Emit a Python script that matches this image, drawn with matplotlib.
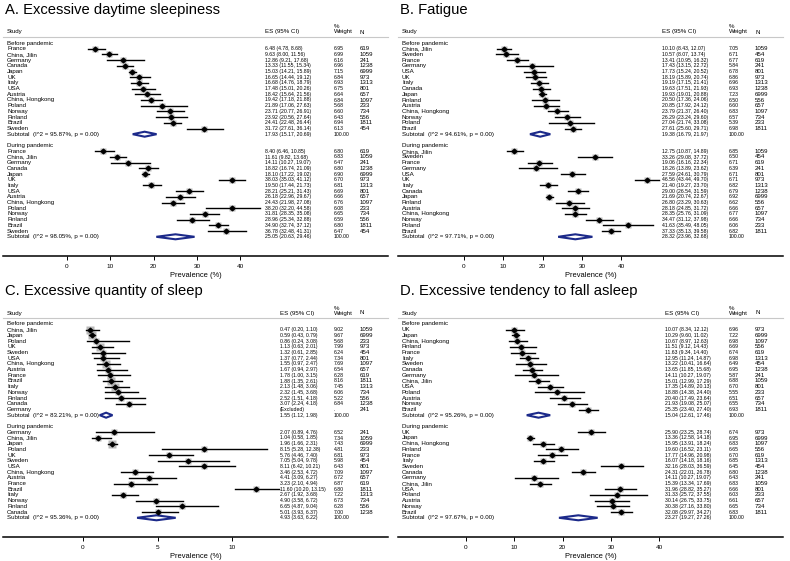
import numpy as np
import matplotlib
matplotlib.use('Agg')
import matplotlib.pyplot as plt
import matplotlib.transforms as mtransforms
from matplotlib import font_manager

nan = np.nan

# ---------------- data ----------------
# A. Excessive daytime sleepiness
a_names = ['France', 'China, Jilin', 'Germany', 'Canada', 'Japan', 'UK', 'Italy', 'USA', 'Austria',
           'China, Hongkong', 'Poland', 'Norway', 'Finland', 'Brazil', 'Sweden']
a_n = [619, 1059, 241, 1238, 6999, 973, 1313, 801, 657, 1097, 233, 734, 556, 1811, 454]
a_pre_es = [6.48, 9.63, 12.86, 13.33, 15.03, 16.65, 16.68, 17.48, 18.42, 19.42, 21.89, 23.71, 23.92, 24.41, 31.72]
a_pre_lo = [4.78, 8.00, 9.21, 11.55, 14.21, 14.44, 14.76, 15.01, 15.64, 17.18, 17.06, 20.77, 20.56, 22.48, 27.61]
a_pre_hi = [8.68, 11.56, 17.68, 15.34, 15.89, 19.12, 18.79, 20.26, 21.56, 21.88, 27.63, 26.91, 27.64, 26.44, 36.14]
a_pre_wt = [6.95, 6.99, 6.16, 6.96, 7.15, 6.84, 6.93, 6.75, 6.64, 6.84, 5.68, 6.60, 6.43, 6.94, 6.13]
a_pre_sub = [17.93, 15.17, 20.69, 95.87]
a_dur_es = [8.40, 11.61, 14.11, 18.82, 18.10, 38.03, 19.50, 28.21, 26.18, 24.43, 38.20, 31.81, 28.96, 34.90, 36.78]
a_dur_lo = [6.46, 9.82, 10.27, 16.74, 17.22, 35.03, 17.44, 25.21, 22.96, 21.98, 32.20, 28.35, 25.34, 32.74, 32.48]
a_dur_hi = [10.85, 13.68, 19.07, 21.09, 19.02, 41.12, 21.73, 31.43, 29.67, 27.08, 44.58, 35.08, 32.88, 37.12, 41.31]
a_dur_wt = [6.80, 6.83, 6.47, 6.80, 6.90, 6.70, 6.81, 6.69, 6.66, 6.76, 6.08, 6.65, 6.59, 6.80, 6.47]
a_dur_sub = [25.05, 20.63, 29.46, 98.05]

# B. Fatigue
b_names = ['China, Jilin', 'Sweden', 'France', 'Germany', 'USA', 'UK', 'Italy', 'Canada', 'Japan',
           'Finland', 'Austria', 'China, Hongkong', 'Norway', 'Poland', 'Brazil']
b_n = [1059, 454, 619, 241, 801, 973, 1313, 1238, 6999, 556, 657, 1097, 734, 233, 1811]
b_pre_es = [10.10, 10.57, 13.41, 17.43, 17.73, 18.19, 19.19, 19.63, 19.93, 20.50, 20.85, 23.79, 26.29, 27.04, 27.61]
b_pre_lo = [8.43, 8.07, 10.95, 13.15, 15.24, 15.89, 17.15, 17.51, 19.01, 17.36, 17.92, 21.37, 23.24, 21.74, 25.60]
b_pre_hi = [12.07, 13.74, 16.32, 22.72, 20.52, 20.74, 21.41, 21.93, 20.88, 24.06, 24.12, 26.40, 29.60, 33.08, 29.71]
b_pre_wt = [7.05, 6.71, 6.77, 5.84, 6.78, 6.86, 6.96, 6.93, 7.23, 6.50, 6.60, 6.83, 6.57, 5.39, 6.98]
b_pre_sub = [19.38, 16.79, 21.97, 94.61]
b_dur_es = [12.75, 33.26, 19.06, 18.26, 27.59, 46.56, 21.40, 29.00, 21.69, 26.80, 28.18, 28.35, 34.47, 41.63, 37.33]
b_dur_lo = [10.87, 29.08, 16.16, 13.89, 24.61, 43.44, 19.27, 26.54, 20.74, 23.29, 24.85, 25.76, 31.12, 35.49, 35.13]
b_dur_hi = [14.89, 37.72, 22.34, 23.62, 30.79, 49.70, 23.70, 31.59, 22.67, 30.63, 31.72, 31.09, 37.98, 48.05, 39.58]
b_dur_wt = [6.85, 6.50, 6.71, 6.39, 6.71, 6.71, 6.82, 6.79, 6.92, 6.62, 6.66, 6.77, 6.66, 6.06, 6.82]
b_dur_sub = [28.32, 23.96, 32.68, 97.71]

# C. Excessive quantity of sleep
c_pre_names = ['China, Jilin', 'Japan', 'Poland', 'UK', 'Sweden', 'USA', 'China, Hongkong', 'Austria',
               'France', 'Brazil', 'Italy', 'Norway', 'Finland', 'Canada', 'Germany']
c_pre_n = [1059, 6999, 233, 973, 454, 801, 1097, 657, 619, 1811, 1313, 734, 556, 1238, 241]
c_pre_es = [0.47, 0.59, 0.86, 1.13, 1.32, 1.37, 1.55, 1.67, 1.78, 1.88, 2.13, 2.32, 2.52, 3.07, nan]
c_pre_lo = [0.20, 0.43, 0.24, 0.63, 0.61, 0.77, 0.97, 0.94, 1.00, 1.35, 1.48, 1.45, 1.51, 2.24, nan]
c_pre_hi = [1.10, 0.79, 3.08, 2.01, 2.85, 2.44, 2.47, 2.97, 3.15, 2.61, 3.06, 3.68, 4.18, 4.18, nan]
c_pre_wt = [9.02, 9.67, 5.68, 7.99, 6.24, 7.34, 7.69, 6.54, 6.28, 8.16, 7.45, 6.06, 5.22, 6.84, nan]
c_pre_sub = [1.55, 1.12, 1.98, 83.21]
c_dur_names = ['Germany', 'China, Jilin', 'Japan', 'Poland', 'UK', 'Sweden', 'USA', 'China, Hongkong',
               'Austria', 'France', 'Brazil', 'Italy', 'Norway', 'Finland', 'Canada']
c_dur_n = [241, 1059, 6999, 233, 973, 454, 801, 1097, 657, 619, 1811, 1313, 734, 556, 1238]
c_dur_es = [2.07, 1.04, 1.96, 8.15, 5.76, 7.05, 8.11, 3.46, 4.41, 3.23, 11.60, 2.67, 4.90, 6.65, 5.01]
c_dur_lo = [0.89, 0.58, 1.66, 5.28, 4.46, 5.04, 6.42, 2.53, 3.09, 2.10, 10.20, 1.92, 3.58, 4.87, 3.93]
c_dur_hi = [4.76, 1.85, 2.31, 12.38, 7.40, 9.78, 10.21, 4.72, 6.27, 4.94, 13.15, 3.68, 6.72, 9.04, 6.37]
c_dur_wt = [6.52, 7.34, 7.43, 4.81, 6.81, 5.98, 6.43, 7.09, 6.72, 6.87, 6.80, 7.22, 6.73, 6.28, 7.00]
c_dur_sub = [4.93, 3.63, 6.22, 95.36]

# D. Excessive tendency to fall asleep
d_names = ['UK', 'Japan', 'China, Hongkong', 'Finland', 'France', 'Italy', 'Sweden', 'Canada', 'Germany',
           'China, Jilin', 'USA', 'Poland', 'Austria', 'Norway', 'Brazil']
d_n = [973, 6999, 1097, 556, 619, 1313, 454, 1238, 241, 1059, 801, 233, 657, 734, 1811]
d_pre_es = [10.07, 10.29, 10.67, 11.51, 11.63, 12.95, 13.22, 13.65, 14.11, 15.01, 17.35, 18.88, 20.40, 21.93, 25.35]
d_pre_lo = [8.34, 9.60, 8.97, 9.12, 9.34, 11.24, 10.41, 11.85, 10.27, 12.99, 14.89, 14.38, 17.49, 19.08, 23.40]
d_pre_hi = [12.12, 11.02, 12.63, 14.43, 14.40, 14.87, 16.64, 15.68, 19.07, 17.29, 20.13, 24.40, 23.64, 25.07, 27.40]
d_pre_wt = [6.96, 7.22, 6.98, 6.69, 6.74, 6.98, 6.49, 6.95, 5.87, 6.88, 6.70, 5.55, 6.51, 6.55, 6.93]
d_pre_sub = [15.04, 12.61, 17.46, 95.26]
d_dur_es = [25.90, 13.36, 15.95, 19.60, 17.77, 16.07, 32.16, 24.31, 14.11, 15.39, 31.96, 31.33, 30.14, 30.38, 32.08]
d_dur_lo = [23.25, 12.58, 13.91, 16.52, 14.96, 14.18, 28.03, 22.01, 10.27, 13.34, 28.82, 25.72, 26.75, 27.16, 29.97]
d_dur_hi = [28.74, 14.18, 18.24, 23.11, 20.98, 18.16, 36.59, 26.78, 19.07, 17.69, 35.27, 37.55, 33.75, 33.80, 34.27]
d_dur_wt = [6.74, 6.95, 6.83, 6.65, 6.70, 6.85, 6.45, 6.80, 6.43, 6.83, 6.66, 6.03, 6.61, 6.65, 6.83]
d_dur_sub = [23.27, 19.27, 27.26, 97.67]

# ---------------- styling ----------------
plt.rcParams['font.family'] = 'Liberation Sans'
names_avail = {f.name for f in font_manager.fontManager.ttflist}
if 'Liberation Sans Narrow' in names_avail:
    NUMFONT, NUMSIZE = 'Liberation Sans Narrow', 4.4
else:
    NUMFONT, NUMSIZE = 'Liberation Sans', 3.7
LBLSIZE = 4.4
BOX = '#a6a6a6'
NAVY = '#1c2a8a'

W, H = 790, 561
fig = plt.figure(figsize=(W / 100, H / 100), dpi=100)
fig.patch.set_facecolor('white')

PITCH = 5.7


def panel(px, py, title, x0, k, ticks, es_px, groups):
    # axes spans the header rule (top) down to the x axis line (bottom)
    top, bot = 37, 256
    ax = fig.add_axes([(px + 3) / W, 1 - (py + bot) / H, 385 / W, (bot - top) / H])
    ax.set_xlim((3 - x0) / k, (388 - x0) / k)
    ax.set_ylim(bot, top)
    for s in ['left', 'right']:
        ax.spines[s].set_visible(False)
    ax.spines['top'].set_color('#c8c8c8')
    ax.spines['top'].set_linewidth(0.8)
    ax.spines['bottom'].set_linewidth(1.1)
    ax.set_yticks([])
    ax.set_xticks(ticks)
    ax.set_xticklabels([str(t) for t in ticks])
    ax.tick_params(axis='x', length=3, width=0.7, pad=2.5, labelsize=4.6)
    ax.set_xlabel('Prevalence (%)', fontsize=5.4, labelpad=2.5)

    tr = mtransforms.blended_transform_factory(ax.transAxes, ax.transData)

    def col(p):
        return (p - 3) / 385

    fig.text((px + 5) / W, 1 - (py + 10) / H, title, fontsize=10.6, va='center', ha='left')
    kw = dict(transform=tr, va='center', ha='left', clip_on=False)
    ax.text(col(7), 32, 'Study', fontsize=LBLSIZE, **kw)
    ax.text(col(es_px), 32, 'ES (95% CI)', fontsize=LBLSIZE, **kw)
    ax.text(col(334), 27, '%', fontsize=LBLSIZE, **kw)
    ax.text(col(334), 32, 'Weight', fontsize=LBLSIZE, **kw)
    ax.text(col(360), 32, 'N', fontsize=LBLSIZE, **kw)

    y = 43.0
    for label, names, es, lo, hi, wt, n, sub in groups:
        ax.text(col(7), y, label, fontsize=LBLSIZE, **kw)
        y += PITCH
        for i in range(len(names)):
            ax.text(col(7), y, names[i], fontsize=LBLSIZE, **kw)
            ax.text(col(360), y, str(n[i]), fontsize=LBLSIZE, **kw)
            if np.isnan(es[i]):
                ax.text(col(es_px), y, '(Excluded)', fontsize=NUMSIZE, family=NUMFONT, **kw)
                ax.text(col(334), y, '.', fontsize=NUMSIZE, family=NUMFONT, **kw)
            else:
                ax.text(col(es_px), y, f'{es[i]:.2f} ({lo[i]:.2f}, {hi[i]:.2f})',
                        fontsize=NUMSIZE, family=NUMFONT, **kw)
                ax.text(col(334), y, f'{wt[i]:.2f}', fontsize=NUMSIZE, family=NUMFONT, **kw)
                ax.plot(es[i], y, marker='s', ms=1.85 * np.sqrt(wt[i]), color=BOX, alpha=0.8,
                        mec='none', zorder=2)
                ax.plot([lo[i], hi[i]], [y, y], color='black', lw=1.0, zorder=3)
                ax.plot(es[i], y, marker='D', ms=2.4, color='black', zorder=4)
            y += PITCH
        ses, slo, shi, i2 = sub
        ax.text(col(7), y, f'Subtotal  (I^2 = {i2:.2f}%, p = 0.00)', fontsize=LBLSIZE, **kw)
        ax.text(col(es_px), y, f'{ses:.2f} ({slo:.2f}, {shi:.2f})', fontsize=NUMSIZE, family=NUMFONT, **kw)
        ax.text(col(334), y, '100.00', fontsize=NUMSIZE, family=NUMFONT, **kw)
        ax.fill([slo, ses, shi, ses], [y, y - 2.5, y, y + 2.5], facecolor='white',
                edgecolor=NAVY, lw=1.5, zorder=3)
        y += 2 * PITCH
    return ax


panel(0, 0, 'A. Excessive daytime sleepiness', 67, 4.33, [0, 10, 20, 30, 40], 265, [
    ('Before pandemic', a_names, a_pre_es, a_pre_lo, a_pre_hi, a_pre_wt, a_n, a_pre_sub),
    ('During pandemic', a_names, a_dur_es, a_dur_lo, a_dur_hi, a_dur_wt, a_n, a_dur_sub),
])
panel(395, 0, 'B. Fatigue', 69, 3.93, [0, 10, 20, 30, 40], 267, [
    ('Before pandemic', b_names, b_pre_es, b_pre_lo, b_pre_hi, b_pre_wt, b_n, b_pre_sub),
    ('During pandemic', b_names, b_dur_es, b_dur_lo, b_dur_hi, b_dur_wt, b_n, b_dur_sub),
])
panel(0, 281, 'C. Excessive quantity of sleep', 83, 14.9, [0, 5, 10], 280, [
    ('Before pandemic', c_pre_names, c_pre_es, c_pre_lo, c_pre_hi, c_pre_wt, c_pre_n, c_pre_sub),
    ('During pandemic', c_dur_names, c_dur_es, c_dur_lo, c_dur_hi, c_dur_wt, c_dur_n, c_dur_sub),
])
panel(395, 281, 'D. Excessive tendency to fall asleep', 70.7, 4.84, [0, 10, 20, 30, 40], 270, [
    ('Before pandemic', d_names, d_pre_es, d_pre_lo, d_pre_hi, d_pre_wt, d_n, d_pre_sub),
    ('During pandemic', d_names, d_dur_es, d_dur_lo, d_dur_hi, d_dur_wt, d_n, d_dur_sub),
])

fig.savefig('out.png', dpi=100, facecolor='white')
